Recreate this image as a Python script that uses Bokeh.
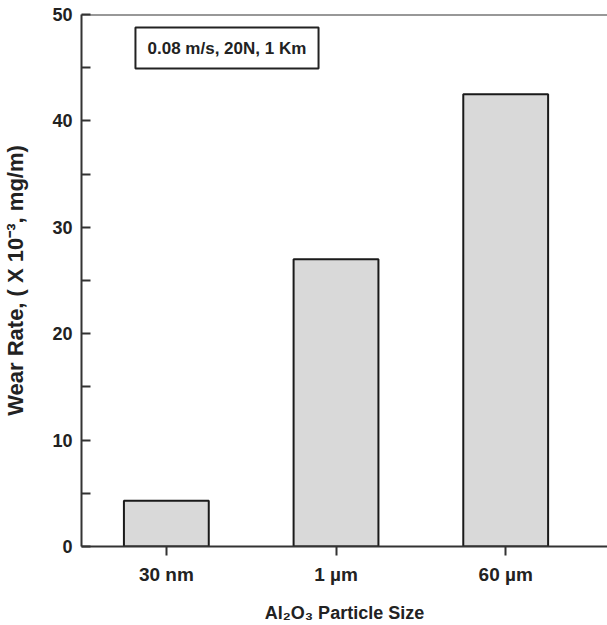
import numpy as np
from bokeh.plotting import figure
from bokeh.models import Range1d, FixedTicker, BoxAnnotation, Label, Span
from bokeh.embed import file_html
from bokeh.resources import INLINE

categories = ["30 nm", "1 µm", "60 µm"]
wear_rate = [4.3, 27.0, 42.5]
y_ticks = [0, 10, 20, 30, 40, 50]
y_minor_ticks = [5, 15, 25, 35, 45]
annotation_text = "0.08 m/s, 20N, 1 Km"
x_title = "Al₂O₃ Particle Size"
y_title = "Wear Rate, ( X 10⁻³, mg/m)"

FONT = "Liberation Sans"
INK = "#222222"
LINE = "#333333"

xpos = np.arange(len(categories)) + 0.5

p = figure(width=607, height=625, output_backend="svg", toolbar_location=None,
           x_range=Range1d(0.0, 3.1), y_range=Range1d(0, 50),
           min_border_left=81, min_border_right=0, min_border_top=14, min_border_bottom=79)
p.outline_line_color = None
p.grid.grid_line_color = None
p.background_fill_color = "white"

p.vbar(x=xpos, top=wear_rate, width=0.5, bottom=0,
       fill_color="#d9d9d9", line_color="#1a1a1a", line_width=2)

# x axis
xa = p.xaxis[0]
xa.ticker = FixedTicker(ticks=list(xpos))
xa.major_label_overrides = {float(x): c for x, c in zip(xpos, categories)}
xa.minor_tick_line_color = None
xa.major_tick_in = 0
xa.major_tick_out = 9
xa.major_tick_line_width = 2
xa.major_tick_line_color = LINE
xa.axis_line_width = 2
xa.axis_line_color = LINE
xa.major_label_standoff = 8
xa.major_label_text_font = FONT
xa.major_label_text_font_style = "bold"
xa.major_label_text_font_size = "19px"
xa.major_label_text_color = INK
xa.axis_label = x_title
xa.axis_label_text_font = FONT
xa.axis_label_text_font_style = "bold"
xa.axis_label_text_font_size = "18px"
xa.axis_label_text_color = INK
xa.axis_label_standoff = 15

# y axis
ya = p.yaxis[0]
ya.ticker = FixedTicker(ticks=y_ticks, minor_ticks=y_minor_ticks)
ya.major_tick_in = 9
ya.major_tick_out = 0
ya.minor_tick_in = 9
ya.minor_tick_out = 0
ya.major_tick_line_width = 2
ya.minor_tick_line_width = 2
ya.major_tick_line_color = LINE
ya.minor_tick_line_color = LINE
ya.axis_line_width = 2
ya.axis_line_color = LINE
ya.major_label_standoff = 9
ya.major_label_text_font = FONT
ya.major_label_text_font_style = "bold"
ya.major_label_text_font_size = "18px"
ya.major_label_text_color = INK
ya.axis_label = y_title
ya.axis_label_text_font = FONT
ya.axis_label_text_font_style = "bold"
ya.axis_label_text_font_size = "22px"
ya.axis_label_text_color = INK
ya.axis_label_standoff = 21

# top frame line
p.add_layout(Span(location=50, dimension="width", line_color=LINE, line_width=2))

# annotation box
p.add_layout(BoxAnnotation(left=0.318, right=1.397, top=48.78, bottom=44.92,
                           fill_color="white", fill_alpha=1.0,
                           line_color="#222222", line_alpha=1.0, line_width=2))
p.add_layout(Label(x=0.857, y=46.85, text=annotation_text, text_align="center",
                   text_baseline="middle", text_font=FONT, text_font_style="bold",
                   text_font_size="17px", text_color=INK))

open("out.html", "w").write(file_html(p, INLINE))
